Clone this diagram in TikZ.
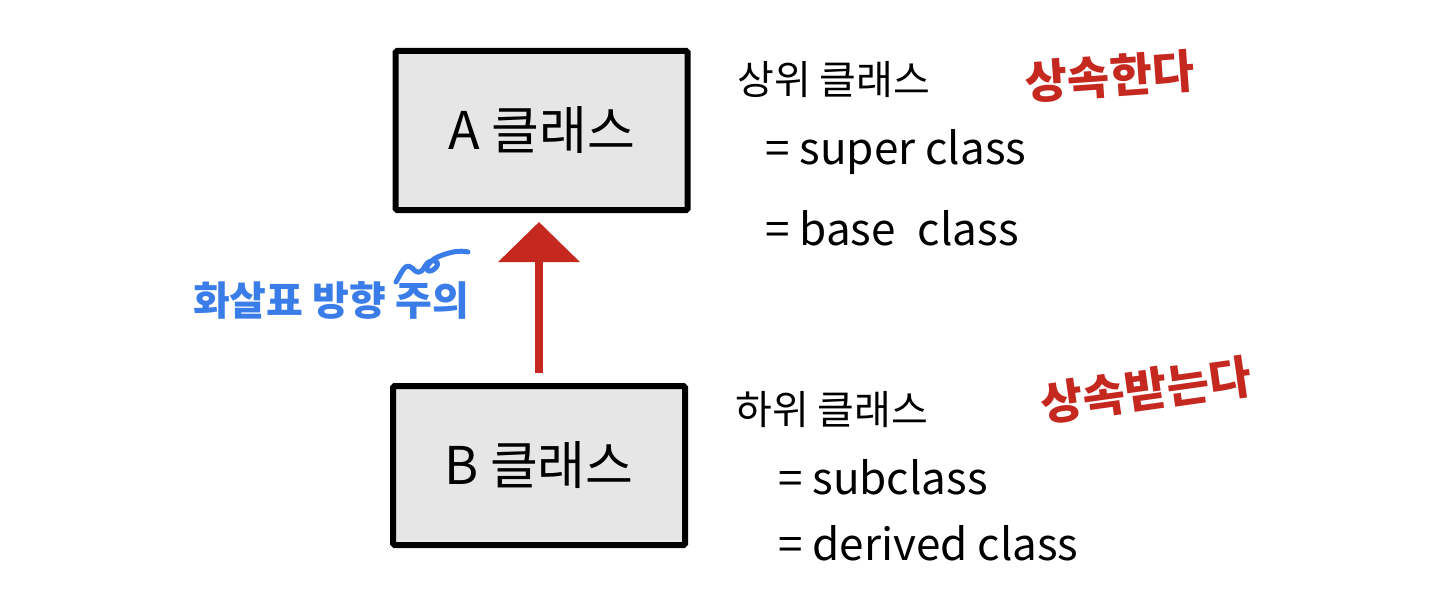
\documentclass[tikz,border=0pt]{standalone}
\usepackage{fontspec}
\setmainfont{Noto Sans CJK KR}
\usetikzlibrary{arrows.meta}
\definecolor{boxfill}{HTML}{E6E6E6}
\definecolor{inkred}{HTML}{C4281F}
\definecolor{inkblue}{HTML}{3B7DE8}
\tikzset{
  cls/.style={draw=black, fill=boxfill, line width=6pt, rounded corners=1.5pt,
    minimum width=292pt, minimum height=159pt, inner sep=0pt,
    font=\fontsize{52}{60}\selectfont},
  note/.style={anchor=west, inner sep=0pt, font=\fontsize{40}{46}\selectfont},
  latin/.style={anchor=west, inner sep=0pt, font=\fontsize{44}{50}\selectfont},
  rednote/.style={text=inkred, inner sep=0pt, font=\fontsize{46}{52}\selectfont\bfseries},
  bluenote/.style={text=inkblue, inner sep=0pt, font=\fontsize{40}{46}\selectfont\bfseries},
  inherit/.style={draw=inkred, line width=8pt,
    -{Triangle[width=80pt,length=40pt]}, shorten <=10pt, shorten >=9pt}
}
\begin{document}
\begin{tikzpicture}[x=1pt,y=-1pt]
\useasboundingbox (0,0) rectangle (1440,591);
\node[cls] (A) at (541.5,130.5) {A 클래스};
\node[cls] (B) at (539,465.5) {B 클래스};
\draw[inherit] (B.north) -- (A.south -| B.north);
\node[note] (t1) at (737,80) {상위 클래스};
\node[latin] (t2) at (765,152) {= super class};
\node[latin] (t3) at (765,228) {= base\enspace class};
\node[note] (t4) at (735,410) {하위 클래스};
\node[latin] (t5) at (778,477) {= subclass};
\node[latin] (t6) at (778,543) {= derived class};
\node[rednote, rotate=4] (r1) at (1110,76) {상속한다};
\node[rednote, rotate=8] (r2) at (1146,390) {상속받는다};
\node[bluenote] (b1) at (331,300) {화살표 방향 주의};
\draw[inkblue, line width=5pt, line cap=round, line join=round]
  (396,282) .. controls (402,272) and (405,262) .. (412,268)
  .. controls (416,272) and (420,276) .. (425,266)
  .. controls (430,256) and (445,262) .. (433,270)
  .. controls (424,275) and (424,262) .. (440,256)
  .. controls (450,252) and (460,250) .. (468,252);
\end{tikzpicture}
\end{document}
